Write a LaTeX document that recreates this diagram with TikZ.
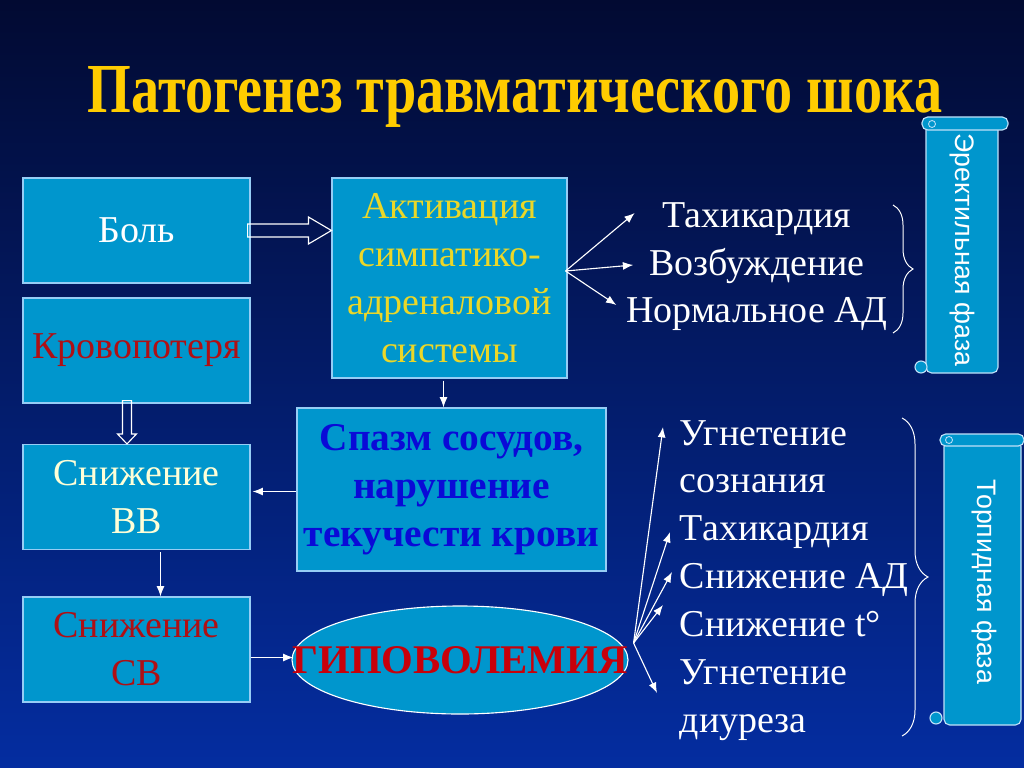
\documentclass[tikz,border=0pt]{standalone}
\usepackage{fontspec}
\setmainfont{Liberation Serif}
\newfontfamily\sansfont{Liberation Sans}
\newfontfamily\titlefont[FakeStretch=0.8]{Liberation Serif}
\usetikzlibrary{arrows.meta,calc,shapes.geometric,decorations.pathreplacing}
\definecolor{bgtop}{RGB}{2,10,50}
\definecolor{bgmid}{RGB}{3,30,125}
\definecolor{bgbot}{RGB}{4,45,160}
\definecolor{boxfill}{RGB}{0,150,205}
\definecolor{boxline}{RGB}{150,205,245}
\definecolor{darkred}{RGB}{175,15,20}
\definecolor{gold}{RGB}{255,204,0}
\definecolor{yel}{RGB}{235,215,40}
\definecolor{cream}{RGB}{255,255,215}
\definecolor{spblue}{RGB}{10,10,215}
\definecolor{hyred}{RGB}{200,0,10}

\begin{document}
\begin{tikzpicture}[x=0.25mm, y=-0.25mm, >={Latex[length=2.6mm,width=2mm]},
    panel/.style={draw=boxline, line width=0.8pt, fill=boxfill, align=center, inner sep=0pt},
    big/.style={font=\fontsize{27}{34}\selectfont},
    thin/.style={draw=white, line width=0.8pt},
    hollow/.style={draw=white, line width=0.8pt, line join=miter},
    scroll/.style={draw=boxline!60!white, line width=0.8pt, fill=boxfill, rounded corners=4pt},
    brace/.style={draw=white, line width=0.7pt, decorate, decoration={brace, amplitude=#1}}]
    % Background.
    \shade[top color=bgtop, middle color=bgmid, bottom color=bgbot] (0,0) rectangle (1024,767);
    \useasboundingbox (0,0) rectangle (1024,767);
    % Title.
    \node[font=\titlefont\bfseries\fontsize{50}{56}\selectfont, text=gold, anchor=base] (title) at (515,113) {Патогенез травматического шока};
    % Left column of boxes.
    \node[panel, big, text=white, minimum width=56.75mm, minimum height=26.25mm] (bol) at (136.5,230.5) {Боль};
    \node[panel, big, text=darkred, minimum width=56.75mm, minimum height=26.25mm] (krov) at (136.5,350.5) {Кровопотеря};
    \node[panel, big, text=cream, minimum width=56.75mm, minimum height=26.25mm] (snvv) at (136.5,497) {Снижение\\ВВ};
    \node[panel, big, text=darkred, minimum width=56.75mm, minimum height=26.25mm] (sncv) at (136.5,649.5) {Снижение\\СВ};
    % Middle column.
    \node[panel, big, text=yel, minimum width=58.75mm, minimum height=50mm] (activ) at (449.5,278) {Активация\\симпатико-\\адреналовой\\системы};
    \node[panel, big, font=\bfseries\fontsize{28}{34}\selectfont, text=spblue, minimum width=77.25mm, minimum height=40.75mm] (spazm) at (451.5,489.5) {Спазм сосудов,\\нарушение\\текучести крови};
    \node[ellipse, draw=white, line width=0.8pt, fill=boxfill, inner sep=0pt, minimum width=84mm, minimum height=27mm,
        font=\bfseries\fontsize{29}{34}\selectfont, text=hyred] (gipo) at (460,660) {\makebox[0pt]{ГИПОВОЛЕМИЯ}};
    % Hollow block arrows.
    \draw[hollow] ($(bol.east)+(-3,-6.5)$) -- ($(bol.east -| activ.west)+(-23,-6.5)$) -- ++(0,-7)
        -- (bol.east -| activ.west) -- ($(bol.east -| activ.west)+(-23,13.5)$) -- ++(0,-7)
        -- ($(bol.east)+(-3,6.5)$) -- cycle;
    \draw[hollow] ($(krov.south)+(-14,-3)$) -- ($(snvv.north)+(-14,-10)$) -- ++(-5,0)
        -- ($(snvv.north)+(-9.5,0)$) -- ($(snvv.north)+(0,-10)$) -- ++(-5,0)
        -- ($(krov.south)+(-5,-3)$) -- cycle;
    % Thin arrows between boxes.
    \draw[thin, ->] ($(activ.south)+(-6,2)$) -- ($(activ.south |- spazm.north)+(-6,0)$);
    \draw[thin, ->] ($(spazm.west)+(0,2)$) -- ($(spazm.west -| snvv.east)+(2,2)$);
    \draw[thin, ->] ($(snvv.south)+(24,2)$) -- ($(sncv.north)+(24,0)$);
    \draw[thin, ->] ($(sncv.east)+(0,8)$) -- ($(sncv.east -| gipo.west)+(2,8)$);
    % Erectile phase signs.
    \foreach \y/\lab [count=\i] in {227/Тахикардия, 275/Возбуждение, 322/Нормальное АД}{
        \node[big, text=white, anchor=base] (t\i) at (757,\y) {\lab};
    }
    \coordinate (src) at ($(activ.east)+(-2,-7)$);
    \draw[thin, ->] (src) -- ($(t1.base west)+(-23,-14)$);
    \draw[thin, ->] (src) -- ($(t2.base west)+(-11,-10)$);
    \draw[thin, ->] (src) -- ($(t3.base west)+(-5,-17)$);
    \draw[brace=5mm] (893,205) -- (893,333);
    % Torpid phase signs.
    \foreach \y/\lab [count=\i] in {445/Угнетение, 492/сознания, 540/Тахикардия, 588/Снижение АД, 636/Снижение t°, 684/Угнетение, 732/диуреза}{
        \node[big, text=white, anchor=base west] (l\i) at (675,\y) {\lab};
    }
    \coordinate (fan) at ($(gipo.east)+(5,-17)$);
    \draw[thin, ->] (fan) -- ($(l1.base west)+(-12,-18)$);
    \draw[thin, ->] (fan) -- ($(l3.base west)+(-5,-8)$);
    \draw[thin, ->] (fan) -- ($(l4.base west)+(-3,-16)$);
    \draw[thin, ->] (fan) -- ($(l5.base west)+(-12,-31)$);
    \draw[thin, ->] (fan) -- ($(l6.base west)+(-18,9)$);
    \draw[brace=6.5mm] (902,418) -- (902,736);
    % Scrolls.
    \draw[scroll] (926,124) rectangle (998,373);
    \draw[scroll] (922,117) rectangle (1008,130);
    \draw[scroll, rounded corners=0pt] (921,367) circle (6);
    \draw[boxline!60!white, line width=0.6pt] (932,124) circle (3.5);
    \node[rotate=-90, font=\sansfont\fontsize{19}{22}\selectfont, text=white] (erekt) at (962,250) {Эректильная фаза};
    \draw[scroll] (944,441) rectangle (1021,725);
    \draw[scroll] (940,434) rectangle (1024,446);
    \draw[scroll, rounded corners=0pt] (936,718) circle (6);
    \draw[boxline!60!white, line width=0.6pt] (949,440) circle (3.5);
    \node[rotate=-90, font=\sansfont\fontsize{19}{22}\selectfont, text=white] (torp) at (984,582) {Торпидная фаза};
\end{tikzpicture}
\end{document}
